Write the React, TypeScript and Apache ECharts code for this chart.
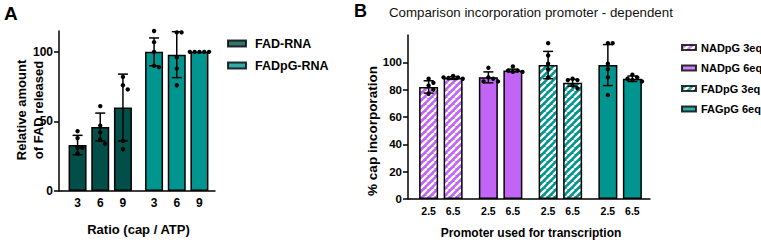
import React, { useEffect, useRef } from 'react';
import * as echarts from 'echarts';

// ---------- Panel A data ----------
const ratioLabels = ['3', '6', '9'];
const groupsA = ['FAD-RNA', 'FADpG-RNA'];
const meanFAD = [33, 46, 60];
const sdFAD = [7, 10, 24];
const dotsFAD = [
  [43, 38, 31, 31, 27],
  [61, 47, 42, 37, 34],
  [82, 76, 73, 36, 30],
];
const meanFADpG = [100, 98, 100];
const sdFADpG = [10, 16.5, 0];
const dotsFADpG = [
  [115, 107, 100, 90, 89],
  [114, 114, 96, 88, 76],
  [100, 100, 100, 100, 100],
];
const yTicksA = [0, 50, 100];

// ---------- Panel B data ----------
const promoterLabels = ['2.5', '6.5'];
const groupsB = ['NADpG 3eq', 'NADpG 6eq', 'FADpG 3eq', 'FAGpG 6eq'];
const meanP25 = [82, 89, 98, 98];
const sdP25 = [4.5, 4, 10, 15];
const dotsP25 = [
  [88, 85, 83, 80, 77],
  [96, 89, 88, 86, 86],
  [114, 105, 99, 95, 89],
  [114, 114, 99, 95, 89, 76],
];
const meanP65 = [88.5, 94, 85, 88];
const sdP65 = [1, 1, 2.5, 2];
const dotsP65 = [
  [90, 89, 88.5, 88, 89],
  [97, 94, 94, 93, 93],
  [88, 87, 87, 83, 81],
  [91, 89, 88, 87, 86],
];
const yTicksB = [0, 20, 40, 60, 80, 100];

// ---------- styles ----------
const FONT = '"Liberation Sans", Arial, Helvetica, sans-serif';
const DARK_TEAL = '#024f49';
const TEAL = '#00968f';
const PURPLE = '#c264f5';
const colorA = [DARK_TEAL, TEAL];
const colorB = [PURPLE, PURPLE, TEAL, TEAL];
const stripedB = [true, false, true, false];

const gridA = { left: 62, top: 31, width: 153, height: 160 };
const gridB = { left: 411, top: 35, width: 239, height: 164 };
const AXIS_OFFSET = 3;
const barWA = 18;
const gapA = 0.26;
const barWB = 19;
const gapB = 0.29;

function stripePattern(base: string) {
  const s = 7;
  const c = document.createElement('canvas');
  c.width = s;
  c.height = s;
  const g = c.getContext('2d')!;
  g.fillStyle = base;
  g.fillRect(0, 0, s, s);
  g.strokeStyle = '#ffffff';
  g.lineWidth = 2.3;
  g.beginPath();
  for (const o of [-s, 0, s]) {
    g.moveTo(o, s);
    g.lineTo(o + s, 0);
  }
  g.stroke();
  return { image: c, repeat: 'repeat', imageWidth: s, imageHeight: s } as any;
}

function swarm(ysPx: number[], r: number): number[] {
  const placed: { x: number; y: number }[] = [];
  const step = 2 * r + 0.4;
  return ysPx.map((y) => {
    for (const k of [0, 1, -1, 2, -2, 3, -3]) {
      const x = k * step;
      if (placed.every((p) => Math.hypot(p.x - x, p.y - y) >= 2 * r)) {
        placed.push({ x, y });
        return x;
      }
    }
    placed.push({ x: 0, y });
    return 0;
  });
}

function overlaySeries(
  axisIdx: number,
  barIndex: number,
  barCount: number,
  pitch: number,
  means: number[],
  sds: number[],
  dots: number[][],
  label: string,
  fontSize: number
) {
  return {
    type: 'custom',
    xAxisIndex: axisIdx,
    yAxisIndex: axisIdx,
    z: 5,
    silent: true,
    clip: false,
    data: means.map((m, j) => [j, m, sds[j]]),
    renderItem: (params: any, api: any) => {
      const j = api.value(0);
      const m = api.value(1);
      const sd = api.value(2);
      const base = api.coord([j, 0]);
      const cx = base[0] + (barIndex - (barCount - 1) / 2) * pitch;
      const children: any[] = [];
      const lw = 1.5;
      if (sd > 0) {
        const yTop = api.coord([j, m + sd])[1];
        const yBot = api.coord([j, m - sd])[1];
        const cap = 5;
        children.push(
          { type: 'line', shape: { x1: cx, y1: yTop, x2: cx, y2: yBot }, style: { stroke: '#000', lineWidth: lw } },
          { type: 'line', shape: { x1: cx - cap, y1: yTop, x2: cx + cap, y2: yTop }, style: { stroke: '#000', lineWidth: lw } },
          { type: 'line', shape: { x1: cx - cap, y1: yBot, x2: cx + cap, y2: yBot }, style: { stroke: '#000', lineWidth: lw } }
        );
      }
      const r = 2.2;
      const ys = dots[params.dataIndex].map((v) => api.coord([j, v])[1]);
      const xs = swarm(ys, r);
      ys.forEach((y, k) => {
        children.push({ type: 'circle', shape: { cx: cx + xs[k], cy: y, r }, style: { fill: '#000' } });
      });
      children.push({
        type: 'text',
        x: cx,
        y: base[1] + 12,
        style: {
          text: label,
          fill: '#000',
          font: `bold ${fontSize}px ${FONT}`,
          align: 'center',
          verticalAlign: 'middle',
          textAlign: 'center',
          textVerticalAlign: 'middle',
        },
      });
      return { type: 'group', children };
    },
  };
}

function gText(text: string, x: number, y: number, font: string, opts: any = {}) {
  return {
    type: 'text',
    x,
    y,
    rotation: opts.rotation || 0,
    style: {
      text,
      font,
      fill: opts.fill || '#000',
      align: opts.align || 'center',
      verticalAlign: 'middle',
      textAlign: opts.align || 'center',
      textVerticalAlign: 'middle',
      lineHeight: opts.lineHeight,
    },
  };
}

export default function App() {
  const ref = useRef<HTMLDivElement>(null);
  useEffect(() => {
    document.body.style.margin = '0';
    const chart = echarts.init(ref.current!, null, { renderer: 'svg' });
    const patB = colorB.map((c, i) => (stripedB[i] ? stripePattern(c) : c));

    const axisLine = { show: true, lineStyle: { color: '#000', width: 1.5 } };

    const barsA = ratioLabels.map((r, i) => ({
      type: 'bar',
      name: 'Ratio ' + r,
      xAxisIndex: 0,
      yAxisIndex: 0,
      barWidth: barWA,
      barGap: gapA * 100 + '%',
      itemStyle: { borderColor: '#000', borderWidth: 1.5 },
      data: groupsA.map((g, j) => ({
        value: [meanFAD, meanFADpG][j][i],
        itemStyle: { color: colorA[j] },
      })),
    }));
    const overA = ratioLabels.map((r, i) =>
      overlaySeries(
        0,
        i,
        ratioLabels.length,
        barWA * (1 + gapA),
        [meanFAD[i], meanFADpG[i]],
        [sdFAD[i], sdFADpG[i]],
        [dotsFAD[i], dotsFADpG[i]],
        r,
        12
      )
    );

    const meansB = [meanP25, meanP65];
    const sdsB = [sdP25, sdP65];
    const dotsB = [dotsP25, dotsP65];
    const barsB = promoterLabels.map((p, i) => ({
      type: 'bar',
      name: 'Promoter ' + p,
      xAxisIndex: 1,
      yAxisIndex: 1,
      barWidth: barWB,
      barGap: gapB * 100 + '%',
      itemStyle: { borderColor: '#000', borderWidth: 1.5 },
      data: groupsB.map((g, j) => ({
        value: meansB[i][j],
        itemStyle: { color: patB[j] },
      })),
    }));
    const overB = promoterLabels.map((p, i) =>
      overlaySeries(1, i, promoterLabels.length, barWB * (1 + gapB), meansB[i], sdsB[i], dotsB[i], p, 10.5)
    );

    const legendDummiesA = groupsA.map((g, j) => ({
      type: 'scatter',
      name: g,
      xAxisIndex: 0,
      yAxisIndex: 0,
      data: [],
      itemStyle: { color: colorA[j], borderColor: '#000', borderWidth: 1.3 },
    }));
    const legendDummiesB = groupsB.map((g, j) => ({
      type: 'scatter',
      name: g,
      xAxisIndex: 1,
      yAxisIndex: 1,
      data: [],
      itemStyle: { color: patB[j], borderColor: '#000', borderWidth: 1.3 },
    }));

    const option: any = {
      animation: false,
      backgroundColor: '#fff',
      grid: [
        { ...gridA, containLabel: false },
        { ...gridB, containLabel: false },
      ],
      xAxis: [
        {
          type: 'category',
          gridIndex: 0,
          data: groupsA,
          axisLine,
          axisTick: { show: false },
          axisLabel: { show: false },
        },
        {
          type: 'category',
          gridIndex: 1,
          data: groupsB,
          axisLine,
          axisTick: { show: false },
          axisLabel: { show: false },
        },
      ],
      yAxis: [
        {
          type: 'value',
          gridIndex: 0,
          min: 0,
          max: 115,
          interval: 50,
          offset: AXIS_OFFSET,
          axisLine,
          axisTick: { show: true, length: 5, lineStyle: { color: '#000', width: 1.5 }, customValues: yTicksA },
          axisLabel: {
            customValues: yTicksA,
            color: '#000',
            fontFamily: FONT,
            fontWeight: 'bold',
            fontSize: 12,
            margin: 6,
          },
          splitLine: { show: false },
        },
        {
          type: 'value',
          gridIndex: 1,
          min: 0,
          max: 120,
          interval: 20,
          offset: AXIS_OFFSET,
          axisLine,
          axisTick: { show: true, length: 5, lineStyle: { color: '#000', width: 1.5 }, customValues: yTicksB },
          axisLabel: {
            customValues: yTicksB,
            color: '#000',
            fontFamily: FONT,
            fontWeight: 'bold',
            fontSize: 11.5,
            margin: 6,
          },
          splitLine: { show: false },
        },
      ],
      legend: [
        {
          data: groupsA,
          orient: 'vertical',
          left: 222,
          top: 32,
          icon: 'rect',
          itemWidth: 18,
          itemHeight: 6,
          itemGap: 9,
          selectedMode: false,
          textStyle: { fontFamily: FONT, fontWeight: 'bold', fontSize: 12.5, color: '#000', padding: [0, 0, 0, 4] },
        },
        {
          data: groupsB,
          orient: 'vertical',
          left: 676,
          top: 37,
          icon: 'rect',
          itemWidth: 14,
          itemHeight: 5,
          itemGap: 9.5,
          selectedMode: false,
          textStyle: { fontFamily: FONT, fontWeight: 'bold', fontSize: 11, color: '#000' },
        },
      ],
      graphic: [
        gText('A', 4, 13, `bold 19px ${FONT}`, { align: 'left' }),
        gText('B', 354, 11, `bold 18px ${FONT}`, { align: 'left' }),
        gText('Comparison incorporation promoter - dependent', 389, 12, `13.3px ${FONT}`, { align: 'left', fill: '#111' }),
        gText('Relative amount\nof FAD released', 30, 110, `bold 13px ${FONT}`, { rotation: Math.PI / 2, lineHeight: 17 }),
        gText('Ratio (cap / ATP)', 138.5, 229, `bold 13px ${FONT}`),
        gText('% cap incorporation', 372, 131, `bold 13.5px ${FONT}`, { rotation: Math.PI / 2 }),
        gText('Promoter used for transcription', 531, 233, `bold 12px ${FONT}`),
        {
          type: 'line',
          shape: { x1: gridA.left - AXIS_OFFSET, y1: gridA.top + gridA.height, x2: gridA.left, y2: gridA.top + gridA.height },
          style: { stroke: '#000', lineWidth: 1.5 },
        },
        {
          type: 'line',
          shape: { x1: gridB.left - AXIS_OFFSET, y1: gridB.top + gridB.height, x2: gridB.left, y2: gridB.top + gridB.height },
          style: { stroke: '#000', lineWidth: 1.5 },
        },
      ],
      series: [...barsA, ...overA, ...barsB, ...overB, ...legendDummiesA, ...legendDummiesB],
    };
    chart.setOption(option);
    return () => chart.dispose();
  }, []);
  return <div ref={ref} style={{ width: 761, height: 242 }} />;
}
